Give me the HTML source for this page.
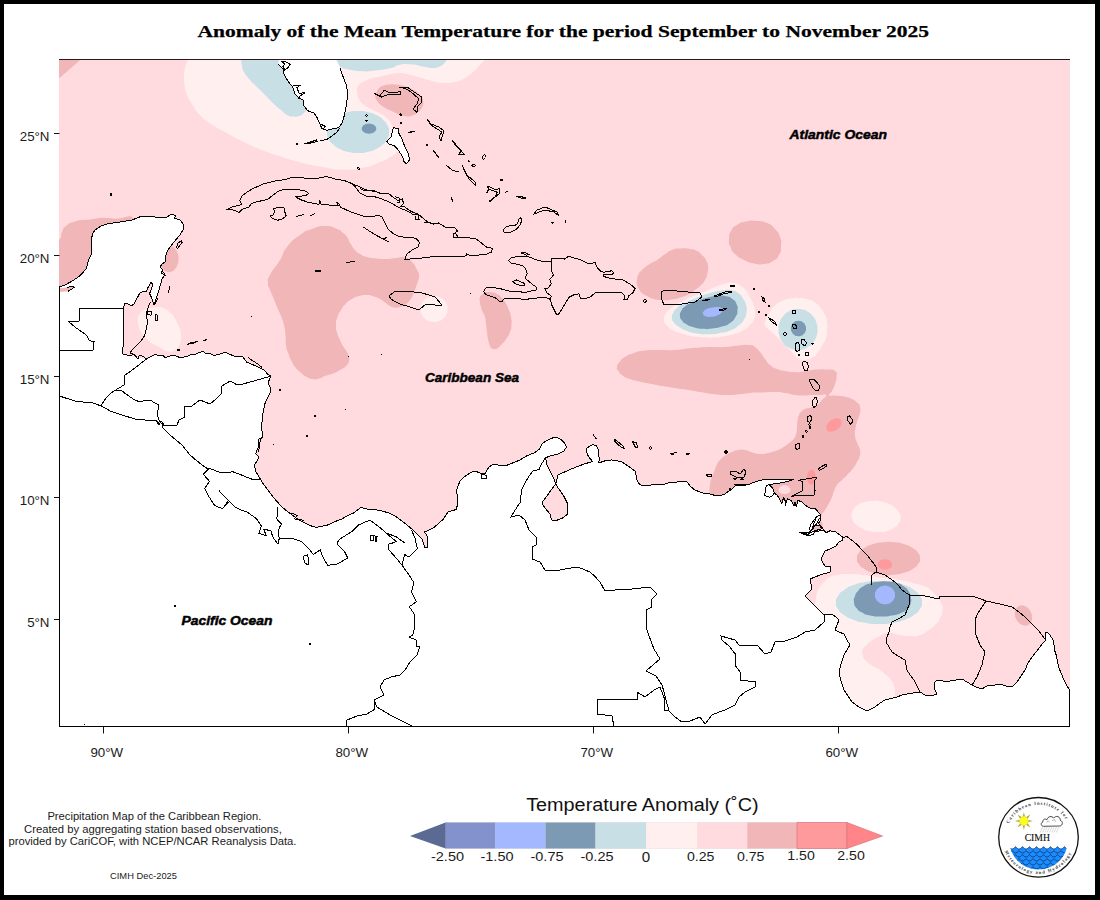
<!DOCTYPE html>
<html><head><meta charset="utf-8"><title>Anomaly of the Mean Temperature</title>
<style>
html,body{margin:0;padding:0}
body{width:1100px;height:900px;background:#000;position:relative;overflow:hidden;font-family:"Liberation Sans",sans-serif}
#pg{position:absolute;left:4px;top:4px;width:1091px;height:891px;background:#fff}
svg text{font-family:"Liberation Sans",sans-serif}
</style></head><body><div id="pg"></div>
<svg width="1100" height="900" viewBox="0 0 1100 900" style="position:absolute;left:0;top:0">
<defs><clipPath id="mc"><rect x="59" y="59" width="1011" height="668"/></clipPath></defs>
<g clip-path="url(#mc)">
<rect x="59" y="59" width="1011" height="668" fill="#ffdbe0"/>
<path d="M55 55 82.5 58 55 82Z" fill="#f0b6b8"/>
<path d="M50 245C53 226.3 55 244.3 59 240C63 235.7 59.7 236.7 62 232C64.3 227.3 61.7 229.5 66 226C70.3 222.5 67 223.7 75 221.5C83 219.3 77.7 220.5 90 219.5C102.3 218.5 97 217 112 218.5C127 220 132.3 209.5 135 224C137.7 238.5 135 239.3 120 262C105 284.7 113.3 280.7 90 292C66.7 303.3 63.3 311.7 50 296C36.7 280.3 47 263.7 50 245Z" fill="#f0b6b8"/>
<path d="M178.5 259C178.5 262.8 178.8 261.3 177.6 264.6C176.4 268 177.1 266.8 174.9 269.2C172.8 271.5 173.8 270.8 171.1 271.7C168.4 272.5 169.6 272.5 166.9 271.7C164.2 270.8 165.2 271.5 163.1 269.2C160.9 266.8 161.6 268 160.4 264.6C159.2 261.3 159.5 262.8 159.5 259C159.5 255.2 159.2 256.7 160.4 253.4C161.6 250 160.9 251.2 163.1 248.8C165.2 246.5 164.2 247.2 166.9 246.3C169.6 245.5 168.4 245.5 171.1 246.3C173.8 247.2 172.8 246.5 174.9 248.8C177.1 251.2 176.4 250 177.6 253.4C178.8 256.7 178.5 255.2 178.5 259Z" fill="#f0b6b8"/>
<path d="M325 226C316.7 226 320.3 226 312 229C303.7 232 308.3 229 300 235C291.7 241 293.7 238.7 287 247C280.3 255.3 285.7 250.7 280 260C274.3 269.3 274 267.3 270 275C266 282.7 268 278 268 283C268 288 268.2 285 270 290C271.8 295 271.2 292.3 273.5 298C275.8 303.7 274.5 301 277 307C279.5 313 278.7 310 281 316C283.3 322 282.5 318.7 284 325C285.5 331.3 284.8 328.3 285.5 335C286.2 341.7 285 338.7 286 345C287 351.3 286.5 348.3 288.5 354C290.5 359.7 289.7 357.5 292 362C294.3 366.5 292.8 364.2 295.5 367.5C298.2 370.8 296.5 369 300 372C303.5 375 302 374.2 306 376.5C310 378.8 307.7 378.3 312 379C316.3 379.7 314.7 379.5 319 378.5C323.3 377.5 320.3 377.7 325 376C329.7 374.3 328 375.5 333 373.5C338 371.5 335.7 372.5 340 370C344.3 367.5 343 369 346 366C349 363 348.2 364.3 349 361C349.8 357.7 349.2 359 348.5 356C347.8 353 348.8 355.3 347 352C345.2 348.7 345.3 350 343 346C340.7 342 342 344.5 340 340C338 335.5 338.3 337.5 337 332.5C335.7 327.5 335.8 330.2 336 325C336.2 319.8 335.8 322 337.5 317C339.2 312 338.2 314.5 341 310C343.8 305.5 342.3 307.2 346 303.5C349.7 299.8 347.7 301.5 352 299C356.3 296.5 354 297.3 359 296C364 294.7 362 294.8 367 295C372 295.2 369.7 295.2 374 296.5C378.3 297.8 376.3 297 380 299C383.7 301 381.7 300.2 385 302.5C388.3 304.8 386.7 304.3 390 306C393.3 307.7 391.7 307.2 395 307.5C398.3 307.8 396.5 308 400 307C403.5 306 402.2 306.8 405.5 304.5C408.8 302.2 407.3 303.5 410 300C412.7 296.5 411.5 298.3 413.5 294C415.5 289.7 414.5 291.3 416 287C417.5 282.7 417 285 418 281C419 277 419.3 278.7 419 275C418.7 271.3 419.3 274.3 417 270C414.7 265.7 416 266.2 412 262C408 257.8 410.3 258.8 405 257.5C399.7 256.2 402 257.5 396 258C390 258.5 393.3 258.8 387 259C380.7 259.2 383.7 259.2 377 258.5C370.3 257.8 372.7 258.5 367 257C361.3 255.5 364 256.3 360 254C356 251.7 358.2 253.5 355 250C351.8 246.5 353.2 247.8 350.5 243.5C347.8 239.2 349.7 240.7 347 237C344.3 233.3 345.8 235.2 342.5 232.5C339.2 229.8 342.8 231.2 337 229C331.2 226.8 333.3 226 325 226Z" fill="#f0b6b8"/>
<path d="M480 297C481.1 294.5 480.7 295.7 483 294C485.3 292.3 484 292.6 487 292C490 291.4 488.7 291.6 492 292.3C495.3 293 493.8 292.3 497 294C500.2 295.7 498.8 294.8 501.5 297.5C504.2 300.2 502.7 298.2 505 302C507.3 305.8 506.5 304 508.5 309C510.5 314 510 311.7 511 317C512 322.3 511.8 320 511.5 325C511.2 330 511.7 327.5 510 332C508.3 336.5 509.2 334.5 506.5 338.5C503.8 342.5 504.7 341 502 344C499.3 347 500.8 345.8 498.5 347.5C496.2 349.2 497.2 348.7 495 349C492.8 349.3 493.7 349.5 492 348.5C490.3 347.5 491.3 349.2 490 346C488.7 342.8 489 343.7 488 339C487 334.3 487.7 337 487 332C486.3 327 486.7 329 486 324C485.3 319 486.2 321.2 485 317C483.8 312.8 483.8 314.8 482.5 311.5C481.2 308.2 481.9 310.3 481 307C480.1 303.7 480.1 304.8 479.8 301.5C479.5 298.2 478.9 299.5 480 297Z" fill="#f0b6b8"/>
<path d="M729 240C729.2 234.7 728.3 236 731 231C733.7 226 732 228.2 737 225C742 221.8 739.3 222.8 746 221.5C752.7 220.2 750 220.5 757 221C764 221.5 761 220.3 767 223C773 225.7 770.7 224.3 775 229C779.3 233.7 778 231.3 780 237C782 242.7 781.3 240 781 246C780.7 252 781.7 250 779 255C776.3 260 778 258 773 261C768 264 770.3 263.2 764 264C757.7 264.8 760.7 264.8 754 263.5C747.3 262.2 750.3 263.2 744 260C737.7 256.8 739.5 258.3 735 254C730.5 249.7 732.5 251.7 730.5 247C728.5 242.3 728.8 245.3 729 240Z" fill="#f0b6b8"/>
<path d="M637 280C637.5 276.7 636.8 277.8 638.5 274.5C640.2 271.2 638.5 273.3 642 270C645.5 266.7 644 267.8 649 264.5C654 261.2 651.8 263.3 657 260C662.2 256.7 659.5 257.8 664.5 254.5C669.5 251.2 666.5 252 672 250C677.5 248 675 248.8 681 248.5C687 248.2 684.7 248.2 690 249C695.3 249.8 693 249 697 251C701 253 699 252 702 255C705 258 704 256.3 706 260C708 263.7 707.5 261.7 708 266C708.5 270.3 708.5 268.3 707.5 273C706.5 277.7 707.3 275.8 705 280C702.7 284.2 703.8 282.2 700.5 285.5C697.2 288.8 698.8 287.2 695 290C691.2 292.8 693.3 291.7 689 294C684.7 296.3 687.7 295.2 682 297C676.3 298.8 678.7 298.5 672 299.5C665.3 300.5 668 300.2 662 300C656 299.8 659 300.3 654 299C649 297.7 651 298 647 296C643 294 644.7 295.3 642 293C639.3 290.7 640.7 291.8 639 289C637.3 286.2 637.7 287.5 637 284.5C636.3 281.5 636.5 283.3 637 280Z" fill="#f0b6b8"/>
<path d="M617 367C617.5 363.8 617.3 364.8 620 361.5C622.7 358.2 620.3 359.8 625 357C629.7 354.2 627.3 355.2 634 353C640.7 350.8 636.3 351.5 645 350.5C653.7 349.5 650 350.2 660 350C670 349.8 665.7 350.5 675 350C684.3 349.5 679.7 349.3 688 348.5C696.3 347.7 692 348 700 347.5C708 347 703.7 347.2 712 347C720.3 346.8 716.3 347.5 725 347C733.7 346.5 729.7 346.2 738 345.5C746.3 344.8 744.2 344.3 750 345C755.8 345.7 752.2 345.2 755.5 347.5C758.8 349.8 756.8 348.2 760 352C763.2 355.8 761.7 354.7 765 359C768.3 363.3 766 361.7 770 365C774 368.3 772 367 777 369C782 371 779.7 370 785 371C790.3 372 788 371.7 793 372C798 372.3 794.7 372.5 800 372C805.3 371.5 803.3 371.3 809 370.5C814.7 369.7 811.3 369.8 817 369.5C822.7 369.2 820 369 826 369.5C832 370 831.5 368.5 835 371C838.5 373.5 836.5 372.7 836.5 377C836.5 381.3 836.5 379.3 835 384C833.5 388.7 834 387.3 832 391C830 394.7 828.3 393.5 829 395C829.7 396.5 830.3 395.2 834 395.5C837.7 395.8 835.8 395.5 840 396C844.2 396.5 842.5 396 846.5 397C850.5 398 848.5 397.2 852 399C855.5 400.8 854.3 399.8 857 402.5C859.7 405.2 859.2 403 860 407C860.8 411 860.5 409.5 859.5 414.5C858.5 419.5 858.3 417.3 857 422C855.7 426.7 856.2 424.2 855.5 428.5C854.8 432.8 854.5 430.3 855 435C855.5 439.7 855.3 437.5 857 442.5C858.7 447.5 859.2 445.3 860 450C860.8 454.7 860.5 452.5 859.5 456.5C858.5 460.5 859.3 457.8 857 462C854.7 466.2 855.8 464.7 852.5 469C849.2 473.3 850.5 471.3 847 475C843.5 478.7 845.3 476.7 842 480C838.7 483.3 839.7 481.3 837 485C834.3 488.7 835.7 487 834 491C832.3 495 833.8 492.7 832 497C830.2 501.3 830.8 499.7 828.5 504C826.2 508.3 827.5 506 825 510C822.5 514 824 510.7 821 516C818 521.3 829.7 528 816 526C802.3 524 805.3 518.7 780 510C754.7 501.3 762.7 503.3 740 500C717.3 496.7 722 502 712 500C702 498 710.8 497.5 710 494C709.2 490.5 709.5 492.5 709.5 489.5C709.5 486.5 709.3 488.8 710 485C710.7 481.2 710.2 482.3 711.5 478C712.8 473.7 712.3 476.2 714 472C715.7 467.8 714.5 469.5 716.5 465.5C718.5 461.5 716.8 463.5 720 460C723.2 456.5 722 457.7 726 455C730 452.3 727.8 453.7 732 452C736.2 450.3 734.2 450.7 738.5 450C742.8 449.3 740.3 449.2 745 450C749.7 450.8 747.5 451.2 752.5 452.5C757.5 453.8 755.5 453.7 760 454C764.5 454.3 762 454.2 766 453.5C770 452.8 767.7 453.3 772 452C776.3 450.7 774.7 451.5 779 449.5C783.3 447.5 781 448.7 785 446C789 443.3 787.7 444.5 791 441.5C794.3 438.5 793.2 440.2 795 437C796.8 433.8 795.8 435.3 796.5 432C797.2 428.7 796.7 430.7 797 427C797.3 423.3 796.8 425 797.5 421C798.2 417 797.7 418.2 799 415C800.3 411.8 799.5 413.5 801.5 411.5C803.5 409.5 801.8 410.3 805 409C808.2 407.7 807 408.8 811 407.5C815 406.2 813.3 407.5 817 405C820.7 402.5 819 403.3 822 400C825 396.7 827 396.7 826 395C825 393.3 823.7 395 819 395C814.3 395 817.2 394.8 812 395C806.8 395.2 809.2 395.5 803.5 395.5C797.8 395.5 801.2 395.8 795 395C788.8 394.2 791.7 394 785 393C778.3 392 782.7 392.2 775 392C767.3 391.8 770.3 392.2 762 392.5C753.7 392.8 758.3 392.3 750 393C741.7 393.7 745.3 393.8 737 394.5C728.7 395.2 733.3 395.2 725 395C716.7 394.8 720.3 395 712 394C703.7 393 710.3 393.7 700 392C689.7 390.3 693.7 391 681 389C668.3 387 672.7 387.8 662 386C651.3 384.2 657.3 385.2 649 383.5C640.7 381.8 643.8 382.7 637 381C630.2 379.3 633.5 380.5 628.5 378.5C623.5 376.5 625.3 377.5 622 375C618.7 372.5 620.2 373.7 618.5 371C616.8 368.3 616.5 370.2 617 367Z" fill="#f0b6b8"/>
<path d="M920 558.5C920 562.3 920.6 560.6 918.1 564.1C915.6 567.7 917.2 566.2 912.6 569.1C908 572 910.5 570.9 904.2 572.8C898 574.7 901 574.1 894 574.7C886.9 575.4 890.1 575.4 883 574.7C876 574.1 879 574.7 872.8 572.8C866.5 570.9 869 572 864.4 569.1C859.8 566.2 861.4 567.7 858.9 564.1C856.4 560.6 857 562.3 857 558.5C857 554.7 856.4 556.4 858.9 552.9C861.4 549.3 859.8 550.8 864.4 547.9C869 545 866.5 546.1 872.8 544.2C879 542.3 876 542.9 883 542.3C890.1 541.6 886.9 541.6 894 542.3C901 542.9 898 542.3 904.2 544.2C910.5 546.1 908 545 912.6 547.9C917.2 550.8 915.6 549.3 918.1 552.9C920.6 556.4 920 554.7 920 558.5Z" fill="#f0b6b8"/>
<path d="M1030.8 612.1C1032 614.9 1031.7 613.7 1032 616.6C1032.2 619.5 1032.3 618.4 1031.5 620.8C1030.7 623.3 1031.2 622.5 1029.4 624C1027.7 625.6 1028.5 625.2 1026.2 625.5C1023.9 625.9 1024.9 626 1022.4 625C1020 624.1 1021 624.7 1018.9 622.7C1016.8 620.6 1017.5 621.6 1016.2 618.9C1015 616.1 1015.3 617.3 1015 614.4C1014.8 611.5 1014.7 612.6 1015.5 610.2C1016.3 607.7 1015.8 608.5 1017.6 607C1019.3 605.4 1018.5 605.8 1020.8 605.5C1023.1 605.1 1022.1 605 1024.6 606C1027 606.9 1026 606.3 1028.1 608.3C1030.2 610.4 1029.5 609.4 1030.8 612.1Z" fill="#f0b6b8"/>
<path d="M841 420.1C841.9 421.4 841.7 420.8 841.6 422.6C841.6 424.3 841.8 423.6 840.8 425.5C839.8 427.4 840.4 426.6 838.6 428.3C836.9 430 837.7 429.4 835.5 430.5C833.4 431.6 834.3 431.3 832.1 431.6C830 431.9 830.8 431.9 829.1 431.3C827.4 430.8 827.9 431.2 827 429.9C826.1 428.6 826.3 429.2 826.4 427.4C826.4 425.7 826.2 426.4 827.2 424.5C828.2 422.6 827.6 423.4 829.4 421.7C831.1 420 830.3 420.6 832.5 419.5C834.6 418.4 833.7 418.7 835.9 418.4C838 418.1 837.2 418.1 838.9 418.7C840.6 419.2 840.1 418.8 841 420.1Z" fill="#ff9a9c"/>
<path d="M815.7 477.2C815.7 479.3 815.8 478.5 815.3 480.4C814.7 482.3 815.1 481.6 814.1 482.9C813.1 484.2 813.6 483.8 812.4 484.3C811.1 484.8 811.7 484.8 810.4 484.3C809.2 483.8 809.7 484.2 808.7 482.9C807.7 481.6 808.1 482.3 807.5 480.4C807 478.5 807.1 479.3 807.1 477.2C807.1 475.1 807 475.9 807.5 474C808.1 472.1 807.7 472.8 808.7 471.5C809.7 470.2 809.2 470.6 810.4 470.1C811.7 469.6 811.1 469.6 812.4 470.1C813.6 470.6 813.1 470.2 814.1 471.5C815.1 472.8 814.7 472.1 815.3 474C815.8 475.9 815.7 475.1 815.7 477.2Z" fill="#ff9a9c"/>
<path d="M892 564.5C892 566 892.2 565.4 891.3 566.8C890.4 568.1 890.9 567.6 889.4 568.6C887.8 569.5 888.5 569.2 886.6 569.6C884.6 569.9 885.4 569.9 883.4 569.6C881.5 569.2 882.2 569.5 880.6 568.6C879.1 567.6 879.6 568.1 878.7 566.8C877.8 565.4 878 566 878 564.5C878 563 877.8 563.6 878.7 562.2C879.6 560.9 879.1 561.4 880.6 560.4C882.2 559.5 881.5 559.8 883.4 559.4C885.4 559.1 884.6 559.1 886.6 559.4C888.5 559.8 887.8 559.5 889.4 560.4C890.9 561.4 890.4 560.9 891.3 562.2C892.2 563.6 892 563 892 564.5Z" fill="#ff9a9c"/>
<path d="M195 20C95 26.7 192 28.3 190 40C188 51.7 190.5 46 189 55C187.5 64 187.2 60.3 185.5 67C183.8 73.7 184.3 69.3 184 75C183.7 80.7 183.8 78.3 184.5 84C185.2 89.7 183.5 85.3 186 92C188.5 98.7 187.3 96.3 192 104C196.7 111.7 193.3 108.2 200 115C206.7 121.8 203.7 118.8 212 124.5C220.3 130.2 214.7 126.3 225 132C235.3 137.7 230.7 135.5 243 141.5C255.3 147.5 249.3 145 262 150C274.7 155 268 152.3 281 156.5C294 160.7 286.2 158.8 301 162.5C315.8 166.2 311.8 165.2 325.5 167.5C339.2 169.8 330 169.3 342 169.5C354 169.7 349.5 170.2 361.5 168C373.5 165.8 368.2 166.8 378 163C387.8 159.2 384.3 160.5 391 156.5C397.7 152.5 394 154.5 398 151C402 147.5 401.7 150.3 403 146C404.3 141.7 403.7 143 402 138C400.3 133 401 134.7 398 131C395 127.3 396 130.5 393 127C390 123.5 391.5 123.8 389 120.5C386.5 117.2 388.2 119.2 385.5 117C382.8 114.8 384.2 115.8 381 114C377.8 112.2 379.3 113.2 376 111.5C372.7 109.8 374.5 110.8 371 109C367.5 107.2 368.7 108.2 365.5 106C362.3 103.8 363.8 105 361.5 102.5C359.2 100 359.9 101.2 358.5 98.5C357.1 95.8 357.9 97.1 357.4 94.3C356.9 91.5 356.8 92.8 357 90C357.2 87.2 356.7 88.3 358 86C359.3 83.7 358.7 84.7 361 83C363.3 81.3 361.7 82.5 365 81C368.3 79.5 366.7 79.8 371 78.5C375.3 77.2 373.5 78 378 77C382.5 76 380.2 76.5 384.5 75.5C388.8 74.5 386.7 74.8 391 74C395.3 73.2 393.2 73.4 397.5 73.2C401.8 73 399.5 72.9 404 73.5C408.5 74.1 406.3 73.8 411 75C415.7 76.2 413.3 75.7 418 77C422.7 78.3 420.3 77.7 425 79C429.7 80.3 427.7 79.8 432 81C436.3 82.2 434 81.8 438 82.5C442 83.2 439.3 83 444 83C448.7 83 446.7 83.3 452 82.5C457.3 81.7 455.2 82.3 460 80.5C464.8 78.7 462.3 79.7 466.5 77C470.7 74.3 468.3 76.2 472.5 72.5C476.7 68.8 474.8 70.5 479 66C483.2 61.5 482 63.7 485 59C488 54.3 486.3 58.3 488 52C489.7 45.7 489.3 50.7 490 40C490.7 29.3 588.3 26.7 490 20C391.7 13.3 295 13.3 195 20Z" fill="#fff0ef"/>
<path d="M375.4 96C375.4 92.9 375.6 94.3 377 91.5C378.4 88.7 377.2 89.7 379.5 87.7C381.8 85.7 380.8 86.6 384 85.5C387.2 84.4 385.3 84.8 389 84.5C392.7 84.2 391.1 84.2 395 84.5C398.9 84.8 396.5 84.4 400.7 85.3C404.9 86.2 403.1 85.7 407.5 87.3C411.9 88.9 410.1 87.9 413.8 90C417.5 92.1 415.8 91 418.5 93.5C421.2 96 420.4 94.8 422 97.5C423.6 100.2 422.9 98.8 423.2 101.5C423.5 104.2 423.7 103 422.8 105.7C421.9 108.4 422.4 107.3 420.5 109.7C418.6 112.1 419.7 111.1 417 113C414.3 114.9 415.8 114.4 412.5 115.5C409.2 116.6 410.8 116.5 407 116.4C403.2 116.3 404.7 116.4 401 115.3C397.3 114.2 399.5 114.7 395.8 113C392.1 111.3 393.8 112.2 390 110.3C386.2 108.4 387.7 109.4 384.4 107.4C381.1 105.4 382.5 106.5 380 104.3C377.5 102.1 378.5 103.6 377 100.8C375.5 98 375.4 99.1 375.4 96Z" fill="#f0b6b8"/>
<path d="M138 318C138.4 315.8 138.1 316.9 139 315C139.9 313.1 139.1 314.1 140.8 312.4C142.5 310.7 141.6 311.2 144 310C146.4 308.8 144.7 309.5 148 308.7C151.3 307.9 150.1 308 154 307.5C157.9 307 156 306.8 159.7 307.3C163.4 307.8 161.6 307.3 165 309C168.4 310.7 167 309.7 170 312.4C173 315.1 171.7 313.6 174 317C176.3 320.4 175.2 318.8 177 322.5C178.8 326.2 178.2 324.2 179.5 328C180.8 331.8 180.3 330.3 180.8 334C181.3 337.7 181.3 336 181 339C180.7 342 180.8 340.5 180 343C179.2 345.5 179.9 344.3 178.5 346.5C177.1 348.7 177.7 347.9 175.7 349.5C173.7 351.1 174.9 350.5 172.5 351.2C170.1 351.9 171.3 352 168.5 351.6C165.7 351.2 166.9 351.4 164 350C161.1 348.6 162.9 349.1 159.7 347.3C156.5 345.5 157.9 346.4 154.5 344.5C151.1 342.6 152.5 343.7 149.5 341.5C146.5 339.3 147.9 340.5 145.5 338C143.1 335.5 144.1 336.7 142.3 334C140.5 331.3 141.2 332.8 140 330C138.8 327.2 139.3 328.3 138.6 325.5C137.9 322.7 138 324 137.8 321.5C137.6 319 137.6 320.2 138 318Z" fill="#fff0ef"/>
<path d="M447.5 309C447.5 312.3 447.8 310.9 446.5 314C445.2 317 446 315.8 443.5 318.2C441.1 320.5 442.3 319.7 439.2 321C436 322.3 437.4 322 434 322C430.6 322 432 322.3 428.8 321C425.7 319.7 426.9 320.5 424.5 318.2C422 315.8 422.8 317 421.5 314C420.2 310.9 420.5 312.3 420.5 309C420.5 305.7 420.2 307.1 421.5 304C422.8 301 422 302.2 424.5 299.8C426.9 297.5 425.7 298.3 428.8 297C432 295.7 430.6 296 434 296C437.4 296 436 295.7 439.2 297C442.3 298.3 441.1 297.5 443.5 299.8C446 302.2 445.2 301 446.5 304C447.8 307.1 447.5 305.7 447.5 309Z" fill="#fff0ef"/>
<path d="M664 320C663.7 316 664.3 316.8 666 313.5C667.7 310.2 665.7 312.8 669 310C672.3 307.2 670.7 308.3 676 305C681.3 301.7 678.7 303.2 685 300C691.3 296.8 688.3 298.3 695 295.5C701.7 292.7 698.3 294.3 705 291.5C711.7 288.7 708.3 289.6 715 287C721.7 284.4 719 285 725 283.7C731 282.4 728 282.4 733 283C738 283.6 735.7 283 740 285.5C744.3 288 742.7 286.5 746 290.5C749.3 294.5 747.5 292.7 750 297.5C752.5 302.3 751.8 300 753.5 305C755.2 310 754.8 307.8 755 312.5C755.2 317.2 755.7 314.8 754 319C752.3 323.2 753.7 321.2 750 325C746.3 328.8 748 327.6 743 330.5C738 333.4 741 331.9 735 333.7C729 335.5 731.7 334.7 725 336C718.3 337.3 722.3 337.1 715 337.5C707.7 337.9 710.5 337.7 703 337.3C695.5 336.9 699.5 337.6 692.5 336.3C685.5 335 688.7 335.6 682 333.5C675.3 331.4 677.5 332.7 672.5 330C667.5 327.3 669.8 328.8 667 325.5C664.2 322.2 664.3 324 664 320Z" fill="#fff0ef"/>
<path d="M765 325C764.2 321.3 764.8 322.8 766.5 318.5C768.2 314.2 767.2 316.3 770 312C772.8 307.7 770.8 309.2 775 305.5C779.2 301.8 777.2 303.3 782.5 301C787.8 298.7 785.2 299.5 791 298.5C796.8 297.5 794.3 297.7 800 298C805.7 298.3 803 298 808 299.5C813 301 810.8 299.7 815 302.5C819.2 305.3 817.2 303.8 820.5 308C823.8 312.2 822.8 310.2 825 315C827.2 319.8 826.3 317.5 827 322.5C827.7 327.5 827.3 325 827 330C826.7 335 827.5 332.5 826 337.5C824.5 342.5 825.2 340.2 822.5 345C819.8 349.8 821.3 347.8 818 352C814.7 356.2 816.5 355 812.5 357.5C808.5 360 810.2 359 806 359.5C801.8 360 803.7 360.3 800 359C796.3 357.7 798.3 358.5 795 355.5C791.7 352.5 794 354.2 790 350C786 345.8 788 348 783 343C778 338 779.7 339.5 775 335C770.3 330.5 772.3 332.8 769 329.5C765.7 326.2 765.8 328.7 765 325Z" fill="#fff0ef"/>
<path d="M900.4 518.6C900.1 522.2 900.7 520.6 898.5 523.8C896.3 526.9 897.6 525.7 893.8 528.1C890 530.4 892 529.6 887 530.9C882.1 532.3 884.4 531.9 878.9 532.1C873.4 532.2 875.9 532.4 870.4 531.3C865 530.2 867.3 531 862.6 528.8C858 526.6 859.8 527.8 856.4 524.8C853.1 521.8 854.2 523.2 852.6 519.8C851 516.3 851.3 517.9 851.6 514.4C851.9 510.8 851.3 512.4 853.5 509.2C855.7 506.1 854.4 507.3 858.2 504.9C862 502.6 860 503.4 865 502.1C869.9 500.7 867.6 501.1 873.1 500.9C878.6 500.8 876.1 500.6 881.6 501.7C887 502.8 884.7 502 889.4 504.2C894 506.4 892.2 505.2 895.6 508.2C898.9 511.2 897.8 509.8 899.4 513.2C901 516.7 900.7 515.1 900.4 518.6Z" fill="#fff0ef"/>
<path d="M790.3 489.7C790.3 491.2 790.5 490.6 789.5 491.9C788.6 493.2 789.1 492.8 787.4 493.5C785.7 494.2 786.4 494.1 784.5 494.1C782.6 494.1 783.3 494.2 781.6 493.5C779.9 492.8 780.4 493.2 779.5 491.9C778.5 490.6 778.7 491.2 778.7 489.7C778.7 488.2 778.5 488.8 779.5 487.5C780.4 486.2 779.9 486.6 781.6 485.9C783.3 485.2 782.6 485.3 784.5 485.3C786.4 485.3 785.7 485.2 787.4 485.9C789.1 486.6 788.6 486.2 789.5 487.5C790.5 488.8 790.3 488.2 790.3 489.7Z" fill="#ffdbe0"/>
<path d="M816 600C816.7 592.7 815.7 597.3 817 593C818.3 588.7 817.5 590.8 820 587C822.5 583.2 821.2 584.8 824.5 581.5C827.8 578.2 825.7 579.2 830 577C834.3 574.8 832.5 576 837.5 575C842.5 574 839.7 574.2 845 574C850.3 573.8 847.8 574 853.5 574.3C859.2 574.6 852.8 573.9 862 575C871.2 576.1 868.3 575.8 881 577.5C893.7 579.2 889.3 578.2 900 580C910.7 581.8 904.7 580.8 913 583C921.3 585.2 918.7 583.7 925 586.5C931.3 589.3 927.8 587.8 932 591.5C936.2 595.2 934.3 593.3 937.5 597.5C940.7 601.7 939.8 599.8 941.5 604C943.2 608.2 942.8 605.5 942.5 610C942.2 614.5 943 612.5 940.5 617.5C938 622.5 939.2 620.7 935 625C930.8 629.3 933 627.2 928 630.5C923 633.8 926 633.2 920 635C914 636.8 916.7 636 910 636C903.3 636 905.5 635.8 900 635C894.5 634.2 897.7 634.3 893.5 633.5C889.3 632.7 892 631.7 887.5 632.5C883 633.3 885 633.5 880 636C875 638.5 877 637 872.5 640C868 643 869.8 641.7 866.5 645C863.2 648.3 863.7 646.7 862.5 650C861.3 653.3 862.2 651.7 863 655C863.8 658.3 862 656.5 865 660C868 663.5 867 662.2 872 665.5C877 668.8 875.3 666.8 880 670C884.7 673.2 882.3 671.7 886 675C889.7 678.3 888.3 676.3 891 680C893.7 683.7 892.7 681.8 894 686C895.3 690.2 895.2 688.2 895 692.5C894.8 696.8 895.2 694.8 893.5 699C891.8 703.2 894.5 700.7 890 705C885.5 709.3 890 708.3 880 712C870 715.7 873.3 718.3 860 716C846.7 713.7 849.3 717 840 705C830.7 693 837 701.7 832 680C827 658.3 830.7 661.7 825 640C819.3 618.3 818 628.3 815 615C812 601.7 815.3 607.3 816 600Z" fill="#fff0ef"/>
<path d="M245 20C220.3 26.7 242.3 28.3 241 40C239.7 51.7 240.7 46.3 241 55C241.3 63.7 241 60.3 242 66C243 71.7 241.3 67.3 244 72C246.7 76.7 245.7 75 250 80C254.3 85 251.7 81.7 257 87C262.3 92.3 260 90 266 96C272 102 269.8 100.2 275 105C280.2 109.8 277.5 107.2 281.5 110.5C285.5 113.8 283.2 113 287 115C290.8 117 289 116.2 293 116.5C297 116.8 295.5 117 299 116C302.5 115 300.8 115.5 303.5 113.5C306.2 111.5 301.5 114.5 307 110C312.5 105.5 314 113.3 320 100C326 86.7 325 90 325 70C325 50 323.3 56.7 320 40C316.7 23.3 340 26.7 315 20C290 13.3 269.7 13.3 245 20Z" fill="#c8dfe6"/>
<path d="M330 20C291 26.7 331.3 28.3 333 40C334.7 51.7 333.3 47.3 335 55C336.7 62.7 336 59 338 63C340 67 337 64.8 341 67C345 69.2 343 68.3 350 69.7C357 71.1 353.7 70.9 362 71.2C370.3 71.5 365.3 71.6 375 70.5C384.7 69.4 383 69.8 391 68C399 66.2 392.7 66.2 399 65C405.3 63.8 402 63.8 410 64.3C418 64.8 415.7 65.3 423 66.5C430.3 67.7 427 67.8 432 68C437 68.2 434.3 68.2 438 67C441.7 65.8 440.3 66.5 443 64.5C445.7 62.5 444.3 63.2 446 61C447.7 58.8 447 61 448 58C449 55 448.3 58 449 52C449.7 46 449.7 50.7 450 40C450.3 29.3 490 26.7 450 20C410 13.3 369 13.3 330 20Z" fill="#c8dfe6"/>
<path d="M389 132C389 136.3 389.5 134.4 387.5 138.5C385.5 142.6 386.8 140.8 383.1 144.3C379.3 147.8 381.4 146.4 376.2 149C371.1 151.5 373.7 150.6 367.6 152C361.5 153.3 364.4 153 358 153C351.6 153 354.5 153.3 348.4 152C342.3 150.6 344.9 151.5 339.8 149C334.6 146.4 336.7 147.8 332.9 144.3C329.2 140.8 330.5 142.6 328.5 138.5C326.5 134.4 327 136.3 327 132C327 127.7 326.5 129.6 328.5 125.5C330.5 121.4 329.2 123.2 332.9 119.7C336.7 116.2 334.6 117.6 339.8 115C344.9 112.5 342.3 113.4 348.4 112C354.5 110.7 351.6 111 358 111C364.4 111 361.5 110.7 367.6 112C373.7 113.4 371.1 112.5 376.2 115C381.4 117.6 379.3 116.2 383.1 119.7C386.8 123.2 385.5 121.4 387.5 125.5C389.5 129.6 389 127.7 389 132Z" fill="#c8dfe6"/>
<path d="M672 318C671.8 314.7 671.8 315.8 673.5 312.5C675.2 309.2 673.5 311 677 308C680.5 305 678.8 306.3 684 303.5C689.2 300.7 686.5 302.1 692.5 299.5C698.5 296.9 695.5 298 702 295.7C708.5 293.4 705.3 294.2 712 292.5C718.7 290.8 715.7 291.2 722 290.5C728.3 289.8 725.7 289.5 731 290.3C736.3 291.1 734 290.3 738 293C742 295.7 740.3 294.5 743 298.5C745.7 302.5 744.8 300.5 746 305C747.2 309.5 747.2 307.2 746.5 312C745.8 316.8 746.8 314.8 744 319.5C741.2 324.2 742.7 322.3 738 326C733.3 329.7 736 328.2 730 330.5C724 332.8 727.3 331.7 720 333C712.7 334.3 715.7 334.1 708 334.3C700.3 334.5 704 334.6 697 333.5C690 332.4 693.2 333.3 687 331C680.8 328.7 682.8 329.3 678.5 326.5C674.2 323.7 676.2 325.3 674 322.5C671.8 319.7 672.2 321.3 672 318Z" fill="#c8dfe6"/>
<path d="M817.5 329.5C817.5 334.2 817.8 332.1 816.3 336.5C814.8 340.9 815.8 339.1 812.9 342.7C810.1 346.3 811.6 344.9 807.8 347.3C803.9 349.6 805.8 348.9 801.4 349.7C797 350.5 799 350.5 794.6 349.7C790.2 348.9 792.1 349.6 788.2 347.3C784.4 344.9 785.9 346.3 783.1 342.7C780.2 339.1 781.2 340.9 779.7 336.5C778.2 332.1 778.5 334.2 778.5 329.5C778.5 324.8 778.2 326.9 779.7 322.5C781.2 318.1 780.2 319.9 783.1 316.3C785.9 312.7 784.4 314.1 788.2 311.7C792.1 309.4 790.2 310.1 794.6 309.3C799 308.5 797 308.5 801.4 309.3C805.8 310.1 803.9 309.4 807.8 311.7C811.6 314.1 810.1 312.7 812.9 316.3C815.8 319.9 814.8 318.1 816.3 322.5C817.8 326.9 817.5 324.8 817.5 329.5Z" fill="#c8dfe6"/>
<path d="M922 602.5C922 606.9 922.6 604.9 919.9 609.1C917.2 613.4 919 611.6 913.8 615.1C908.6 618.7 911.4 617.3 904.3 619.9C897.1 622.5 900.7 621.6 892.3 622.9C883.9 624.3 887.9 624 879 624C870.1 624 874.1 624.3 865.7 622.9C857.3 621.6 860.9 622.5 853.7 619.9C846.6 617.3 849.4 618.7 844.2 615.1C839 611.6 840.8 613.4 838.1 609.1C835.4 604.9 836 606.9 836 602.5C836 598.1 835.4 600.1 838.1 595.9C840.8 591.6 839 593.4 844.2 589.9C849.4 586.3 846.6 587.7 853.7 585.1C860.9 582.5 857.3 583.4 865.7 582.1C874.1 580.7 870.1 581 879 581C887.9 581 883.9 580.7 892.3 582.1C900.7 583.4 897.1 582.5 904.3 585.1C911.4 587.7 908.6 586.3 913.8 589.9C919 593.4 917.2 591.6 919.9 595.9C922.6 600.1 922 598.1 922 602.5Z" fill="#c8dfe6"/>
<path d="M376.2 128.6C376.2 130 376.4 129.5 375.5 130.8C374.6 132.1 375.1 131.6 373.5 132.5C371.9 133.4 372.6 133.2 370.6 133.5C368.6 133.8 369.4 133.8 367.4 133.5C365.4 133.2 366.1 133.4 364.5 132.5C362.9 131.6 363.4 132.1 362.5 130.8C361.6 129.5 361.8 130 361.8 128.6C361.8 127.2 361.6 127.7 362.5 126.4C363.4 125.1 362.9 125.6 364.5 124.7C366.1 123.8 365.4 124 367.4 123.7C369.4 123.4 368.6 123.4 370.6 123.7C372.6 124 371.9 123.8 373.5 124.7C375.1 125.6 374.6 125.1 375.5 126.4C376.4 127.7 376.2 127.2 376.2 128.6Z" fill="#7d9ab5"/>
<path d="M680 316C679.8 312.7 679.8 313.7 681.5 310.5C683.2 307.3 681.8 309 685 306.5C688.2 304 686.3 305.2 691 303C695.7 300.8 693.3 301.8 699 300C704.7 298.2 702 298.8 708 297.5C714 296.2 711 296.4 717 296C723 295.6 720.8 295.3 726 296.3C731.2 297.3 729 296.4 732.5 299C736 301.6 734.8 300.2 736.5 304C738.2 307.8 737.8 306.2 737.5 310.5C737.2 314.8 738 312.8 735.5 317C733 321.2 734.5 319.8 730 323C725.5 326.2 728 324.7 722 326.5C716 328.3 718.7 327.7 712 328.5C705.3 329.3 708.3 329.3 702 328.8C695.7 328.3 698.3 328.6 693 327C687.7 325.4 689.7 326.2 686 324C682.3 321.8 684 323.2 682 320.5C680 317.8 680.2 319.3 680 316Z" fill="#7d9ab5"/>
<path d="M806 328.5C806 330.7 806.2 329.8 805.3 331.8C804.3 333.8 804.9 333.1 803.2 334.5C801.5 335.9 802.3 335.5 800.2 336C798.1 336.5 798.9 336.5 796.8 336C794.7 335.5 795.5 335.9 793.8 334.5C792.1 333.1 792.7 333.8 791.7 331.8C790.8 329.8 791 330.7 791 328.5C791 326.3 790.8 327.2 791.7 325.2C792.7 323.2 792.1 323.9 793.8 322.5C795.5 321.1 794.7 321.5 796.8 321C798.9 320.5 798.1 320.5 800.2 321C802.3 321.5 801.5 321.1 803.2 322.5C804.9 323.9 804.3 323.2 805.3 325.2C806.2 327.2 806 326.3 806 328.5Z" fill="#7d9ab5"/>
<path d="M854 602C853.5 598 853.7 599.7 855 596C856.3 592.3 855.3 594.2 858 591C860.7 587.8 859 589 863 586.5C867 584 864.7 585.1 870 583.5C875.3 581.9 873 582.5 879 581.8C885 581.1 882 581.1 888 581.5C894 581.9 891.7 581.3 897 583C902.3 584.7 900 583.5 904 586.5C908 589.5 906.7 588.2 909 592C911.3 595.8 910.5 594 911 598C911.5 602 911.7 600.3 910.5 604C909.3 607.7 910.7 606 907.5 609C904.3 612 906.2 610.8 901 613C895.8 615.2 898.7 614.3 892 615.5C885.3 616.7 888.3 616.5 881 616.5C873.7 616.5 876.3 616.8 870 615.5C863.7 614.2 866.5 615 862 612.5C857.5 610 859.2 611.5 856.5 608C853.8 604.5 854.5 606 854 602Z" fill="#7d9ab5"/>
<path d="M703 314C702.2 312.2 702.7 312.7 704 311C705.3 309.3 704.3 310.1 707 309C709.7 307.9 708.5 308.3 712 307.6C715.5 306.9 714.5 306.9 717.5 307C720.5 307.1 719.4 306.8 721 307.8C722.6 308.8 722.3 308.3 722.3 310C722.3 311.7 722.8 311.2 721 313C719.2 314.8 720.2 314.2 717 315.5C713.8 316.8 715 316.5 711.5 316.8C708 317.1 709.3 317.4 706.5 316.5C703.7 315.6 703.8 315.8 703 314Z" fill="#a4b8ff"/>
<path d="M895 595C895 597.7 895.3 596.6 894 599C892.8 601.4 893.5 600.5 891.2 602.2C889 603.9 890 603.4 887.2 604C884.4 604.6 885.6 604.6 882.8 604C880 603.4 881 603.9 878.8 602.2C876.5 600.5 877.2 601.4 876 599C874.7 596.6 875 597.7 875 595C875 592.3 874.7 593.4 876 591C877.2 588.6 876.5 589.5 878.8 587.8C881 586.1 880 586.6 882.8 586C885.6 585.4 884.4 585.4 887.2 586C890 586.6 889 586.1 891.2 587.8C893.5 589.5 892.8 588.6 894 591C895.3 593.4 895 592.3 895 595Z" fill="#a4b8ff"/>
<path d="M59 287 63.7 285.5 71 281.8 79.7 276 86.3 268.7 88.5 260 91 255 91 240 93 233 95 230 101 226 107 224 120 222 132 220 137 218 142 216 155 217 167 217 170 215 173 214.5 176 216 174 218 180 220 184 225 183 230 180 235 174 242 170 247 167 252 165 258 165 262 162 264 160 267 163 270 161 273 165 275 163.4 271.6 165 275 162 279 159.7 287.6 157.5 295 155.4 300.7 154 305 154 305 151 296.4 149.5 293.5 151.7 289 152.5 284 151 282.5 148 287.6 146 292 143.7 291.3 140 292.7 136.5 299.3 134.3 303.6 131.4 305.8 126.3 303.3 124.8 303.6 124.8 303.6 123.4 308 124 329.8 122.6 354.5 146.6 359 151 356.5 155.4 354.5 159 356 162.6 355.3 165 357.5 168.5 356.7 172 355 175.7 356 180 357.5 186 356.7 190 355 194.6 354.5 199 352.5 203.4 351.6 206 353.5 209 353 214 355.5 220 354 225.3 352.4 230 354.5 234.2 356 239 356 243 357 246.7 362.2 251 364 255.6 365.8 260 368 264.4 370.2 268 374.7 271 376 271 376 268 382.7 270 387 270.7 391.6 268 397 265.3 402.2 264 408 262.7 414.7 262 422 261.8 429 262.7 437 258.2 439.6 259 446.7 257 450 255.6 453.8 259 457.3 257 461 254.7 464.4 255 468 255.6 471.6 258 475 260.3 479 260.3 479 264 485 268.5 490.7 273 497 278 502.5 281 506 285 509.6 289.5 513 294.5 516.7 299 520 304 522.6 310 525.5 315.8 527.4 321 526.5 327.6 525 334 522 341.8 519 347 516 353.6 513 357 510.5 360.7 507.3 367 509 375 509.6 382 511 389 513 395 516 401 520.3 407 525 412.7 529.7 417 534 422.2 539.2 423.5 543 424.5 547.5 428 547.5 427.5 541 427 535.6 424.5 532 429 530 434 527.4 439 523 443.5 519 446 515 448 512 452 510.5 456.5 509.6 457.6 503 457.6 497.8 456.5 490.7 458 486 460 481.3 460 481.3 463 478 467 475 471 472.5 475 471 480 473 485 474 487 470 489 467 492 465 495 464 500 465.5 505 466 510 464 515 462 520 460 527.3 455.6 534.5 452.7 539.6 449 541 446 541.8 444 545 441.5 549 439.6 553.5 437.5 559.3 438.2 563.6 441.8 566.5 447 563.6 451.3 557.8 454.2 551.3 455.6 545.5 457.8 545.5 457.8 547 465 550.5 472.4 554.2 479 555.6 484 555.6 484 557 479 557.8 475.3 563.6 472.4 569 470 575.3 467.3 580 465.5 585.5 463.6 592.7 461.5 592.7 461.5 590.5 459 588.4 456.4 586.5 452 586.2 449 588.4 447 592.7 444.7 596.4 445.5 598.5 449.8 598.5 456.4 600 459.3 598.5 462 601.5 462 601.5 462 606 460.5 611.6 460 617 460.8 621.8 462 625 464 629 466.5 632 469 635 471 636 475 636.4 478 637.5 481 639.3 484 642 485.5 645 486 651 485 658 484 665 484 670 482.5 680 481.8 687 482 691 487 695 490 700 492 705 493.5 710 494 717 496 721 495.5 725 494 729 491 732 489 736 485 743 484 750 484 756 481.5 762 480 774 479.5 785 480 792 479 792 479 793 479.4 788.3 481.2 782.7 482.7 776 483.6 769.4 484.6 771 486.5 772.8 488.5 774.2 493 777 495 778.9 497.8 781.7 503.4 783.6 497.8 785.5 501.5 785 506.3 787.4 498.7 791.2 500.6 794 506.3 795 502.5 796.4 507.2 797.8 500.6 801.5 501.5 805.3 505.3 810 508.2 815.7 509 818.5 512.4 820.4 514.8 820.4 520.4 818.5 523.3 821.4 526.1 823.3 529.9 826.1 532.7 829.9 530.8 829.9 530.8 835.5 531.8 839.3 534.6 843.1 537.4 843.1 537.4 842.2 540.3 838.4 542.2 836 546 830 549 825 551 823 555 821 559 823 563 825 566 831 567 830 572 825 573.5 820 575 815 577 810 579 811 584 812 589 808 593 805 596 810 601 815 606 820 611 824 615 824 615 828 614 832 614 836 617 839 620 837 625 835 630 839 632 844 634 847 640 850 645 847 650 844 655 841 664 839 672 841 681 844 690 848 696 852 702 859 707 867 711 871 709 875 707 880 703 885 700 891 698.5 897 697 902 695 907 694 913 693 920 692 920 692 925 695 930 696 934 695 937 694 935 690 934 686 935 682 937 680 943 681 950 681 956 680 962 679 967 682 972 685 972 685 977 687.5 982 689 987 686 993 685.5 1000 684 1006 686 1012 687 1017 682 1021 676 1025 670 1028 663 1032 657 1036 652 1040 647 1043 643 1046 640 1046 640 1045 636 1045 632 1047.5 632.5 1050 635 1053 640 1054 645 1054.5 650 1056.5 656 1057.5 662 1058.7 667 1061 673 1064 680 1067 686 1069.5 690 1070 692 1072 692 1072 730 57 730 57 287Z" fill="#fff"/>
<path d="M279.6 58 278 64 281 67 284.5 69.7 283 72 284.5 75.5 288.6 82 292.7 87 295 94.3 299.3 98.4 303.4 100 304 105.7 307.5 110.6 314 113 317.3 118 319.7 123.7 322 128.6 327 130.3 333.6 128.6 338.5 127.8 341.8 123.7 343.5 118.8 345 112.3 346.7 104 347.5 94.3 346.7 86 343.5 78 340 68 335.3 58Z" fill="#fff"/>
<path d="M393.4 127.8 398.3 128.6 399 133.5 402.4 140 404.8 146.6 408 153 409.7 159.7 406.5 163.8 404 161.4 402.4 156.5 398.3 150 394.2 145.8 389.3 144.2 386.8 141.7 391 136.8Z" fill="#fff"/>
<path d="M555.6 484 551.3 489.8 546.2 497 541.8 503 545.5 508.7 550.5 514.5 551.3 519.6 555 521 562.2 518.2 567.3 514.5 568 504.4 563.6 495.6 558.5 488.4Z" fill="#ffdbe0"/>
<path d="M59 288.4 66.6 287.6 72.5 286.2 74 287.6 68 291.3 59 292Z" fill="#f0b6b8"/>
<path d="M812.9 526.1 820.4 525.2 821.4 528.9 814.8 530.8 812 529.9Z" fill="#f0b6b8"/>
<g fill="none" stroke="#000" stroke-width="1" shape-rendering="crispEdges">
<path d="M59 287 63.7 285.5 71 281.8 79.7 276 86.3 268.7 88.5 260 91 255 91 240 93 233 95 230 101 226 107 224 120 222 132 220 137 218 142 216 155 217 167 217 170 215 173 214.5 176 216 174 218 180 220 184 225 183 230 180 235 174 242 170 247 167 252 165 258 165 262 162 264 160 267 163 270 161 273 165 275 163.4 271.6 165 275 162 279 159.7 287.6 157.5 295 155.4 300.7 154 305"/>
<path d="M154 305 151 296.4 149.5 293.5 151.7 289 152.5 284 151 282.5 148 287.6 146 292 143.7 291.3 140 292.7 136.5 299.3 134.3 303.6 131.4 305.8 126.3 303.3 124.8 303.6"/>
<path d="M124.8 303.6 123.4 308 124 329.8 122.6 354.5"/>
<path d="M122.6 354.5 130 355.3 134.3 354.5 138 359 139.4 355 142.3 356 146.6 359"/>
<path d="M150.3 302.2 148 308 146.6 312.4 146 315.3 147.4 321 146.6 328.4 144.5 335.6 140.8 341.5 136.5 345.8 132 350.2 130 353 134.3 354.5"/>
<path d="M146.6 359 151 356.5 155.4 354.5 159 356 162.6 355.3 165 357.5 168.5 356.7 172 355 175.7 356 180 357.5 186 356.7 190 355 194.6 354.5 199 352.5 203.4 351.6 206 353.5 209 353 214 355.5 220 354 225.3 352.4 230 354.5 234.2 356 239 356 243 357 246.7 362.2 251 364 255.6 365.8 260 368 264.4 370.2 268 374.7 271 376"/>
<path d="M271 376 268 382.7 270 387 270.7 391.6 268 397 265.3 402.2 264 408 262.7 414.7 262 422 261.8 429 262.7 437 258.2 439.6 259 446.7 257 450 255.6 453.8 259 457.3 257 461 254.7 464.4 255 468 255.6 471.6 258 475 260.3 479"/>
<path d="M260.3 479 264 485 268.5 490.7 273 497 278 502.5 281 506 285 509.6 289.5 513 294.5 516.7 299 520 304 522.6 310 525.5 315.8 527.4 321 526.5 327.6 525 334 522 341.8 519 347 516 353.6 513 357 510.5 360.7 507.3 367 509 375 509.6 382 511 389 513 395 516 401 520.3 407 525 412.7 529.7 417 534 422.2 539.2 423.5 543 424.5 547.5 428 547.5 427.5 541 427 535.6 424.5 532 429 530 434 527.4 439 523 443.5 519 446 515 448 512 452 510.5 456.5 509.6 457.6 503 457.6 497.8 456.5 490.7 458 486 460 481.3"/>
<path d="M460 481.3 463 478 467 475 471 472.5 475 471 480 473 485 474 487 470 489 467 492 465 495 464 500 465.5 505 466 510 464 515 462 520 460 527.3 455.6 534.5 452.7 539.6 449 541 446 541.8 444 545 441.5 549 439.6 553.5 437.5 559.3 438.2 563.6 441.8 566.5 447 563.6 451.3 557.8 454.2 551.3 455.6 545.5 457.8"/>
<path d="M545.5 457.8 547 465 550.5 472.4 554.2 479 555.6 484"/>
<path d="M555.6 484 557 479 557.8 475.3 563.6 472.4 569 470 575.3 467.3 580 465.5 585.5 463.6 592.7 461.5"/>
<path d="M592.7 461.5 590.5 459 588.4 456.4 586.5 452 586.2 449 588.4 447 592.7 444.7 596.4 445.5 598.5 449.8 598.5 456.4 600 459.3 598.5 462 601.5 462"/>
<path d="M601.5 462 606 460.5 611.6 460 617 460.8 621.8 462 625 464 629 466.5 632 469 635 471 636 475 636.4 478 637.5 481 639.3 484 642 485.5 645 486 651 485 658 484 665 484 670 482.5 680 481.8 687 482 691 487 695 490 700 492 705 493.5 710 494 717 496 721 495.5 725 494 729 491 732 489 736 485 743 484 750 484 756 481.5 762 480 774 479.5 785 480 792 479"/>
<path d="M792 479 793 479.4 788.3 481.2 782.7 482.7 776 483.6 769.4 484.6 771 486.5 772.8 488.5 774.2 493 777 495 778.9 497.8 781.7 503.4 783.6 497.8 785.5 501.5 785 506.3 787.4 498.7 791.2 500.6 794 506.3 795 502.5 796.4 507.2 797.8 500.6 801.5 501.5 805.3 505.3 810 508.2 815.7 509 818.5 512.4 820.4 514.8 820.4 520.4 818.5 523.3 821.4 526.1 823.3 529.9 826.1 532.7 829.9 530.8"/>
<path d="M829.9 530.8 835.5 531.8 839.3 534.6 843.1 537.4"/>
<path d="M843.1 537.4 842.2 540.3 838.4 542.2 836 546 830 549 825 551 823 555 821 559 823 563 825 566 831 567 830 572 825 573.5 820 575 815 577 810 579 811 584 812 589 808 593 805 596 810 601 815 606 820 611 824 615"/>
<path d="M824 615 828 614 832 614 836 617 839 620 837 625 835 630 839 632 844 634 847 640 850 645 847 650 844 655 841 664 839 672 841 681 844 690 848 696 852 702 859 707 867 711 871 709 875 707 880 703 885 700 891 698.5 897 697 902 695 907 694 913 693 920 692"/>
<path d="M920 692 925 695 930 696 934 695 937 694 935 690 934 686 935 682 937 680 943 681 950 681 956 680 962 679 967 682 972 685"/>
<path d="M972 685 977 687.5 982 689 987 686 993 685.5 1000 684 1006 686 1012 687 1017 682 1021 676 1025 670 1028 663 1032 657 1036 652 1040 647 1043 643 1046 640"/>
<path d="M1046 640 1045 636 1045 632 1047.5 632.5 1050 635 1053 640 1054 645 1054.5 650 1056.5 656 1057.5 662 1058.7 667 1061 673 1064 680 1067 686 1069.5 690 1070 692"/>
<path d="M278 64 281 67 284.5 69.7 283 72 284.5 75.5 288.6 82 292.7 87 295 94.3 299.3 98.4 303.4 100 304 105.7 307.5 110.6 314 113 317.3 118 319.7 123.7 322 128.6 327 130.3 333.6 128.6 338.5 127.8 341.8 123.7 343.5 118.8 345 112.3 346.7 104 347.5 94.3 346.7 86 343.5 78 340 68"/>
<path d="M393.4 127.8 398.3 128.6 399 133.5 402.4 140 404.8 146.6 408 153 409.7 159.7 406.5 163.8 404 161.4 402.4 156.5 398.3 150 394.2 145.8 389.3 144.2 386.8 141.7 391 136.8Z"/>
<path d="M555.6 484 551.3 489.8 546.2 497 541.8 503 545.5 508.7 550.5 514.5 551.3 519.6 555 521 562.2 518.2 567.3 514.5 568 504.4 563.6 495.6 558.5 488.4Z"/>
<path d="M66.6 287.6 72.5 286.2 74 287.6 68 291.3"/>
<path d="M59.5 287 59.5 726.5 1070 726.5"/>
<path d="M1069.5 691 1069.5 726.5"/>
<path d="M843.1 537.4 846.9 536.5 850.7 539.3 854.4 542.2 858 545.5 862 550 867 555 871 560 874 564 876 567 876 572 872 575 871 580 871 585"/>
<path d="M876 572 880 573.5 885 575 890 578.5 895 582 899 586 902 590 906 593 910 595 917 595.5 925 596 932 597.5 939 599 940 596 948 596 957 596 966 596.5 975 597 981 599 986 601 993 602.5 1000 604 1006 605.5 1012 607 1019 612 1025 617 1030 622 1035 627 1039 631 1042 635 1044 638 1046 640"/>
<path d="M910 595 909.5 600 909 605 907 610 905 615 898 619 892 622 890 627 889 632 887 637 886 642 889 647 892 652 898 656 905 660 906 665 907 670 910 675 914 680 917 686 920 692"/>
<path d="M986 601 983 605.5 980 610 977 615 975 620 975 628 976 635 978 640 980 645 982.5 648.5 985 652 983.5 658 982 665 979.5 671 977 677 974.5 681 972 685"/>
<path d="M769.4 484.6 766.6 485.5 765.2 488.3 765.7 491.2 764.2 495.4 767.6 496.4 769.4 497.3 772.3 495.9 774.2 493"/>
<path d="M798.7 531.8 804.4 534.6 808.2 535.5 812.9 534.6 814.8 531.8 820.4 530.8 823.3 529.9"/>
<path d="M799.5 532.6 806 533.2 810 531.5 812 529.9 812.9 526.1 816.7 516.7"/>
<path d="M801 533.4 808 534.3 811 532.5 814.8 530.8 821.4 528.9 820.4 525.2 812.9 526.1"/>
<path d="M811 524.2 813.8 520.4 816.7 516.7 820.4 514.8"/>
<path d="M809 529.9 811 524.2"/>
<path d="M803 532.2 809 532.5 813.5 528 817 523 819.5 518"/>
<path d="M79.7 308.4 123.4 308.4"/>
<path d="M79.7 308.4 79.4 321 68.8 321.8 72.5 325 76.8 328.4 82 332 86.3 335 88 338 89.2 340.7 94 341.7 93.5 346 93 350.2 59.4 351"/>
<path d="M146.6 359 140 364 133.5 369 128 373 124 376 124 380.5 124 385 119 388 114 391"/>
<path d="M114 391 110 394 107 397 104 401 101 406"/>
<path d="M114 391 118 390.5 122 391 126 394 130 397 135 400 140 402 145 400.5 150 400 155 403 159 405 158 410 157 415 158.5 418.5 160 422"/>
<path d="M271 376 261 379 250 382 243 384 237 385 233 382.5 230 381 226 383.5 222 386 221.5 390 221 394 216 399 210 404 205 402 200 400 196 403 192 406 188 406 184 406 184.5 412 185 417 182 418.5 179 420 178 422.5 177 425 172 425.5 167 426 163 424.5 160 422"/>
<path d="M59.4 396 67 398.5 75 401 83 402 90 402 96 404 101 406 106 408.5 110 411 122 415 135 419 145 420 155 420 158 422 160 425 157 423 161 421 164 424 162 427 166 431 170 435 176 440 182 445 186 450 190 455 197 461 205 467 208 469 209.5 468.3"/>
<path d="M209.5 468.3 215 470.5 221.3 473 227 472.5 233 471.8 239 474 245 476.5 250 478.5 254.4 480 260.3 479"/>
<path d="M209.5 468.3 206 471.5 203.5 474.2 206.5 478 209.5 481.3 207 485 204.7 488.4 206.5 492 208.3 495.5 211 500 214.2 504.9 218 507 222.5 508.5 226 505 229.5 501.4 232.5 504.5 235.5 507.3 241 510 247.3 512 252 515.5 256.7 519 259 522.5 261.5 526.2 260 530 259 533.3 262.5 534.5 266.2 535.6 265 532.5 263.8 529.7 267.5 530 271 531 272 534.5 273.3 538 275.5 541 278 544"/>
<path d="M219 490.7 223.5 495.5 228.4 500.2 226 504 223.6 507.3"/>
<path d="M278 507.3 277.4 513 276.8 519 279 521.5 281.5 523.8 279.5 527.5 278 531 278.6 534.5 279.2 538 278 544"/>
<path d="M278 539.2 284 538.5 289.8 538 295.5 539.5 301.6 541.5 305 545 308.7 548.6 311 551.5 313.5 554.5 317 552 320.5 549.8 321.5 553.5 323 557 325 561 327.6 565.2 332 564.8 337 564 342.5 561 347.7 558 346 554.5 344.2 551 340.5 547.5 337 544 338 541.5 339.5 539.2 345.5 535.5 351.3 532 355 528.5 358.4 525 364 522.5 370.2 520.3 375 524 379.6 527.4 384.5 531.5 389 535.6 392.5 538.5 396.2 541.5 392.5 543 389 544 388.5 546.5 388 548.6 392 553.5 396.2 558 399 561.5 402 565.2"/>
<path d="M386.7 533.3 391.5 535 396.2 536.8 400.5 540 404.5 542.7"/>
<path d="M402 565.2 403.3 560 404.5 554.5 409.2 557 413.5 552.5 417.5 548.6 416 543 415 538 413 533.5 411.5 529.7"/>
<path d="M402 565.2 405 569.5 408 573.5 411 578 414 583 412.5 588 411.5 592.4 414 597 416.3 601.8 412.5 604.5 409.2 606.5 411.5 610 414 613.6 414.5 619.5 415 625.5 414 630 412.7 635 409 637 416 640 416 646 420 646 418.5 650.5 417 655 413.5 658.5 410 662 407.5 666 405 670 402.5 672.5 400 675 395.5 676 391 677 387.5 678.5 384 680 382 683.5 380 687 382 691 384 695 379 697.5 374 700 375.5 703.5 377 707 383.5 711 390 715 395 717.5 400 720 405 722.5 410 725 413 727"/>
<path d="M346 727 347 720 352 718 357 716 362 715 367 714 371 711.5 375 709 374.5 704.5 374 700"/>
<path d="M545.5 457.8 541.8 463.6 539 469.5 533 471 528.7 476.7 524.4 484 521.5 489.8 520.7 498.5 520 503 517 507 511 517 515 516 519 515 522 517.5 525 520 527 525 529 530 532.5 533.5 536 537 536 541 536 545 534 546 532 547 532 553 532 559 536 560.5 540 562 542.5 566 545 570 552 570 560 570 568 568.5 577 567 584 569.5 590 572 595 576.5 600 582 602.5 586.5 605 591 610 590.5 615 590 623 589.5 632 589 641 588 650 587 653.5 590.5 657 594 654 597 651 600 651.5 603.5 652 607 649 608.5 646 610 646.5 620 647 630 650.5 640 654 649 657 654 660 659 653 665 646 671 651 673.5 656 676 659 680.5 662 685 664 692 666 700 667.5 705.5 669 711"/>
<path d="M824 615 824 622 819.5 626 815 630 810 631 805 632 801 634.5 797 637 791 639 785 641 780 641.5 775 642 773 647 771 652 768 653 765 654 761 649.5 757 645 752 645.5 747 646 743 645.5 739 645 737 642.5 735 640 728 638 721 636 722 640 726 643.5 730 647 733 651 736 655 735.5 660 735 665 737.5 668.5 740 672 740 680 748 681 756 682 755 687 750 689.5 745 692 742 694.5 739 697 737 701 735 705 730 707.5 725 710 718 712.5 712 715 708.5 719.5 705 724 702.5 720.5 700 717 695 719 690 721 686 721.5 682 722 678.5 719.5 675 717 669 711"/>
<path d="M669 711 664 710 664.5 705 665 700 662.5 693.5 660 687 657 688.5 654 690 649.5 693.5 645 697 641 694.5 637 692 637 699 597 699 597 714 612 716 614 727"/>
</g>
<g fill="none" stroke="#000" stroke-width="1" shape-rendering="crispEdges">
<path d="M227.3 209.4 231.6 207.2 237.5 205.7 241.8 204.3 239.6 200.6 241.8 196.3 246.2 192.6 253.5 188.3 263.6 183.9 275.3 181 285.5 179.5 291.3 177.4 300 177.4 310.2 178.8 319 178 326.2 176.6 330.5 177.4 336.4 179.5 343.6 180.3 351 183.2 355 186.5 359.6 192.6 365.8 196 374.5 196.7 381.8 199 389 201.8 396.4 206.2 402.2 209 408 211.3 413.8 215 418.2 214.2 422.5 217.8 427 221.5 432.7 223.6 438.5 223 443 225.8 447.3 228 454.5 227.3 457.5 231 453 234.5 453 237.5 459 237.5 466.2 237.5 476.4 239 480.7 242.5 486.5 247 492.4 248.4 491.6 252 486.5 254.2 479.3 255 470.5 255.6 467.6 254.2 464.7 256.4 453 256.4 441.5 256.4 429.8 257 418.2 258.5 405 259.3 406.5 254.2 412.4 249.8 418.2 247 419.6 242.5 416 238.2 408 237.5 399.3 236.7 393.5 233.8 387.6 228.7 384.7 222.2 381.8 217 379 215.6 371.6 216.4 362.5 216 353.8 213 346.5 210 340.7 207.2 339.3 204.3 336.4 202 337.8 205 329 205 321 204.3 319.6 200 319 204.3 314.5 203.5 307.3 202 301.5 200 295.6 197 300 196.3 305.8 195.5 308.7 193.4 305.8 191.2 298.5 189.7 289.8 189 282.5 189.7 278.2 191.2 272.4 195.5 268 199.2 262.2 200.6 256.4 202 251.3 203.5 249 207.2 243.3 208.6 239 212.3 233 210Z"/>
<path d="M273.8 208.6 278.2 207.2 284 208 284.7 211.5 286.2 216 282.5 218.8 277.5 220.3 273 218.8 270.2 216 273 215.2 274.5 212.3Z"/>
<path d="M296.4 216.6 300 215.5 303.6 214.5"/>
<path d="M310.2 216 312.7 214.6 315.3 213.3"/>
<path d="M363.6 227.3 370.2 231.6 377.5 236 383.3 239 389 241.8"/>
<path d="M381.8 239 387 237.6"/>
<path d="M346 263 350 262 355 261"/>
<path d="M351 183.2 359.6 186.8 365.5 189.7 372.7 191.2 380 192.6"/>
<path d="M360 188.7 365.8 191 374.5 190.2"/>
<path d="M379 193 389 193.8 393.5 197.5 397.8 200.4 402.2 199 403.6 203.3 400.7 206.2 405 207 409.5 210.5 413.8 212.7 418.2 214.2 419 219.3 415.3 219.3 416 215.6"/>
<path d="M395 196.5 399 198 400 202 397 203"/>
<path d="M424 222.2 429.8 223 434.2 224.4"/>
<path d="M453.5 233 456 234 458 237"/>
<path d="M466 253.5 468.5 255.5"/>
<path d="M315 271 318 270.5 321 271 318 272Z"/>
<path d="M389 296 391.5 294 394 292 400 291.5 407 291 414 292 422 293 429 295 435 297 438.5 301 442 305 438 305.5 435 305 430 304.5 426 304 422.5 307 419 310 414 308.5 410 307 405 305.5 400 304 395 301.5 391 299Z"/>
<path d="M508.4 260.4 510.5 258.2 516.4 256.7 522.2 256 530.2 257.2 535.3 259.6 541 261 548.4 262 551.3 261.5 552 258.2 558.5 258.2 564.4 259 568.7 256.3 574.5 258.2 580.4 259.6 584.7 261.8 589 264 595 262.5 597.8 268.4 600.7 271.3 603.6 272.3 611.6 270.8 613.8 272.7 612.4 274.2 603.6 274.2 603.6 276.4 608 277.8 615.3 279 621 279 627 282.2 631.3 285 635 288.7 632.7 293 628.4 296 627.6 299.6 624 299.6 624.7 296 621.8 293 615.3 292.4 608 293 600.7 292 595 293 590.5 296.7 586.2 298.2 580.4 298.2 579 293.8 574.5 294.5 568.7 297.5 565 304 561.5 309.8 558.5 314.2 556.4 314.2 554.2 309.8 551.3 304 550.5 299.6 548.4 298.2 542.5 297.5 535.3 298.2 523.6 299.6 516.4 298.2 509 298.2 504 299 501.8 301.8 499.6 301.8 496 298.2 490.2 296 485.8 294.5 483.6 291.6 485.8 288 491.6 287.3 500.4 288.7 509 291 517.8 291.6 525 292.4 531 291 536 290.2 536.7 287.3 532.4 284.4 528 280.7 525 277.8 527.3 273.5 525.8 269 522.2 265.5 516.4 264 511.3 263.3Z"/>
<path d="M551.3 261.5 552 266.2 551.3 270.5 553.5 275 549.8 279.3 551.3 283.6 548.4 288 544.7 288.7 547 293 551.3 296 550.5 299.6"/>
<path d="M512.7 281.5 516.4 280 523.6 283 525 285 520.7 285.8 515 283.6Z"/>
<path d="M521.5 253 525 252.4 528.7 254.5 526.5 255.3Z"/>
<path d="M661 292 663 291 665 290 675 290.8 685 291.8 700 293 701 295 702 297 698.5 299.5 695 302 688 303 682 304 673 304.5 664 305 663 302.5 662 300 661.5 296Z"/>
<path d="M646.4 301 646 302 645 302.4 644 302 643.6 301 644 300 645 299.6 646 300Z"/>
<path d="M702 301 706 299.8 710 299 706 300.8Z"/>
<path d="M714 296 719.5 294 725 292 728.5 291.6 732 292 728 293 723 294 718 296Z"/>
<path d="M730 286 732.5 285.6 735 286 732.5 286.6Z"/>
<path d="M719 310 723 309 727 308.7 723 310.3Z"/>
<path d="M762 297 764 298.5 765 302 763 300.5Z"/>
<path d="M754.8 289 754.4 289.7 753.6 289.7 753.2 289 753.6 288.3 754.4 288.3Z"/>
<path d="M770.2 306 769.6 306.9 768.4 306.9 767.8 306 768.4 305.1 769.6 305.1Z"/>
<path d="M759.8 312 759.4 312.7 758.6 312.7 758.2 312 758.6 311.3 759.4 311.3Z"/>
<path d="M766.9 315 766.5 315.8 765.5 315.8 765.1 315 765.5 314.2 766.5 314.2Z"/>
<path d="M769 318 772 319.5 775 322 776.5 325 774 323.5 771 321Z"/>
<path d="M795.8 312 795.3 313.4 794 314 792.7 313.4 792.2 312 792.7 310.6 794 310 795.3 310.6Z"/>
<path d="M792 325 795 324.5 797 326.5 796.5 329 793.5 328.5Z"/>
<path d="M786.3 334 785.9 335.1 785 335.6 784.1 335.1 783.7 334 784.1 332.9 785 332.4 785.9 332.9Z"/>
<path d="M795 343.5 798 342.5 800 346 799.5 350 797 352 795 349Z"/>
<path d="M801 340 804 339.5 806.5 342.5 805 346 802 344Z"/>
<path d="M808.7 354 808.2 355.2 807 355.7 805.8 355.2 805.3 354 805.8 352.8 807 352.3 808.2 352.8Z"/>
<path d="M799.9 355 799.5 355.6 798.5 355.6 798.1 355 798.5 354.4 799.5 354.4Z"/>
<path d="M813.5 343.5 813 344 812 344 811.5 343.5 812 343 813 343Z"/>
<path d="M802.5 362.5 805 361 807.5 363 808.5 367 807 371 804.5 370 803 366Z"/>
<path d="M809 380 811.5 379.2 814 379.5 816.5 382 819 385 819.5 388 818.5 390.5 814.5 390 812.5 387 811 384Z"/>
<path d="M813 400 815 397.5 816.5 398 817.5 402 816 406 814 407.5 812.5 405Z"/>
<path d="M807.5 417 810 415.5 811.7 417 811.5 420 809.5 422.5 807.5 421Z"/>
<path d="M810.3 424.5 809.9 425.2 809.1 425.2 808.7 424.5 809.1 423.8 809.9 423.8Z"/>
<path d="M810.8 427.5 810.4 428.2 809.6 428.2 809.2 427.5 809.6 426.8 810.4 426.8Z"/>
<path d="M807.1 431.5 806.7 432.2 805.9 432.2 805.5 431.5 805.9 430.8 806.7 430.8Z"/>
<path d="M803.8 436.5 803.4 437.5 802.6 437.5 802.2 436.5 802.6 435.5 803.4 435.5Z"/>
<path d="M795.5 445 798 443 800 444.5 799.5 448 797 449.5 795 448Z"/>
<path d="M847.5 417 849.5 416 852 419 852.5 422 850.5 424 848 421Z"/>
<path d="M818.5 469 821.4 466.6 826.1 464.2 827 465.7 823.3 468.5 819.5 470.4Z"/>
<path d="M797.8 480.3 801.5 479.8 809.1 478.4 816.7 477.5 816.2 478.9 814.3 480.3 814.3 488.3 815.2 490.2 814.3 492.1 814.3 495 807.2 495.9 799.7 495.4 795 495.9 791.2 496.4 795.9 494 800.6 491.6 803 490.7 802.5 482.7 802 481.2Z"/>
<path d="M614.5 439.6 616.5 440.5 620 443.5 623 446 624 448.4 621 447 617.5 444 615 441.5Z"/>
<path d="M632.7 441.8 636 442.5 637 445 637.8 447.6 635.5 447.6 634 444.5Z"/>
<path d="M651.3 448 650.9 449.1 650.1 449.1 649.7 448 650.1 446.9 650.9 446.9Z"/>
<path d="M592.7 433.8 594.5 436.5 596.4 439"/>
<path d="M670.5 453.5 674 453 677 452.5"/>
<path d="M671 455 674.5 454.6"/>
<path d="M689.3 454 688.6 454.7 687.4 454.7 686.7 454 687.4 453.3 688.6 453.3Z"/>
<path d="M727.4 452 727 452.8 726 453.2 725 452.8 724.6 452 725 451.2 726 450.8 727 451.2Z"/>
<path d="M706 474 711 474 711 476.7 706 475.7Z"/>
<path d="M730 472 733 471.3 736 471 738 472.5 740 474 742 471.5 744 469 745 470.5 746 472 745 474.5 744 477 740 477 736 477 733 475.5 730 474Z"/>
<path d="M736 478.5 735.5 479 734.5 479 734 478.5 734.5 478 735.5 478Z"/>
<path d="M743.2 479.3 742.6 479.8 741.4 479.8 740.8 479.3 741.4 478.8 742.6 478.8Z"/>
<path d="M734 484.5 742 484 750 484 745 485.2 740 486Z"/>
<path d="M731.2 489 730.6 489.9 729.4 489.9 728.8 489 729.4 488.1 730.6 488.1Z"/>
<path d="M373.7 92.6 376.5 94.3 379.5 96 382 93 384.4 90.2 387 91.4 389.3 92.6 395 92.2 400.7 91.8 400.7 94.3 395 94.3 389.3 94.3 385 95.7 381 97.2 377 95Z"/>
<path d="M399 87 403 87 407.3 87 410.5 89.4 413.8 91.8 417.5 94.2 421.2 96.7 421.6 99.6 422 102.5 420 104 418 105.7 417.5 109 417 112.3 415 110.6 413 109 415 106.5 417 104 418 101 418.7 98.4 416 96.3 413.8 94.3 410.5 91.8 407.3 89.4 403 88Z"/>
<path d="M367.3 115.5 366.9 116.5 366.1 116.5 365.7 115.5 366.1 114.5 366.9 114.5Z"/>
<path d="M367 120.5 366.7 121 366.1 121 365.8 120.5 366.1 120 366.7 120Z"/>
<path d="M401.6 114.7 401.1 115.5 400.2 115.5 399.8 114.7 400.2 113.9 401.1 113.9Z"/>
<path d="M401.3 123 401 123.5 400.4 123.5 400.1 123 400.4 122.5 401 122.5Z"/>
<path d="M408 132.7 411.3 131.3 414.6 131 411.3 132.5Z"/>
<path d="M427 119 429 121.5 431 124 435 125.5 439 127 441.5 129 444 131 443 134 442 137 441.5 139 441 141 440 139 439 137 440.5 134.5 442 132 439.5 130.5 437 129 434 127 431 125 429 122Z"/>
<path d="M452 140 454.5 143 457 146 460.5 150 464 154 461.5 154 459 154 460 152.5 461 151 458.5 148.5 456 146 454 143Z"/>
<path d="M427.6 145 427.3 145.7 426.7 145.7 426.4 145 426.7 144.3 427.3 144.3Z"/>
<path d="M433 150 436 154 439 158"/>
<path d="M446 165 449 167.5 452 170 455.5 171.2 459 172"/>
<path d="M462 165 464.5 170 467 175 471 178.5 475 182 475 185 472 182 469 179 467 175.5 465 172 463.5 168.5Z"/>
<path d="M485.5 157.5 484.5 158.8 483.2 159.1 482.4 158.1 482.5 156.5 483.5 155.2 484.8 154.9 485.6 155.9Z"/>
<path d="M475.3 165.5 474.8 166.2 473.5 166.5 472.2 166.2 471.7 165.5 472.2 164.8 473.5 164.5 474.8 164.8Z"/>
<path d="M469.2 161.2 468.9 161.6 468.4 161.6 468.2 161.2 468.4 160.8 468.9 160.8Z"/>
<path d="M487.3 186.5 491 187.3 495.3 189.5 499.6 188.7 499 193.8 493.8 198.2 488.7 202.5 490.2 200.4 495.3 196.7 497.5 192.4 493.8 191 489.5 189.5 486.5 193 488.7 188.7Z"/>
<path d="M503 180 502.2 180.7 500.8 180.7 500 180 500.8 179.3 502.2 179.3Z"/>
<path d="M505 192.3 508.5 191.6"/>
<path d="M516 196 521 196.6 526 198 521 198Z"/>
<path d="M503.3 230.2 505.5 227.3 509.8 225.8 514.2 225.8 517.8 223.6 518.5 219.3 520.5 217.8 522 220 520 225 517 228.7 511.3 232 504 232.4Z"/>
<path d="M534 214 535.5 212 537 210 541 208.5 545 207 551 209.5 557 212 558 214 559 216 556.5 214 554 212 549.5 211 545 210 542 211 539 212 536.5 213.5Z"/>
<path d="M553.1 222.5 552.8 223 552.2 223 551.9 222.5 552.2 222 552.8 222Z"/>
<path d="M565 220 566 222.5"/>
<path d="M451 197 452 199.5 453 202"/>
<path d="M359.6 169.4 358.6 169.6 357.6 168.9 357.4 168 358.4 167.8 359.4 168.5Z"/>
<path d="M282 61.5 286 62 290.3 64 288 67.8 285 69.4 283 66.5 284.5 64Z"/>
<path d="M292.7 85.3 300 85.3 296.8 87.7 299.3 93.5 305 92.6 300 96 298.5 99"/>
<path d="M319.7 123.7 322.5 125 325.5 126.5 323 128.8"/>
<path d="M304 144 309 142.5 316.5 140 317 141.4 310 143.3Z"/>
<path d="M320.5 141 327 139.3 332 136 337 132 340 127.8"/>
<path d="M176.5 247 178 243 181.5 240.5 182 242.5 179.5 246 177.5 248.5Z"/>
<path d="M170 286 169 290 167.7 293.5"/>
<path d="M155.4 314.5 157 314.5 158 320 155.8 320.5Z"/>
<path d="M147.5 311 151.5 311 151 315.3 147 314Z"/>
<path d="M156 296 157.5 299 155.5 303 153.8 305"/>
<path d="M186.6 344.4 192 342.5 197.5 341.5 192 343.6Z"/>
<path d="M203.4 340.7 206.3 339.3 205 340.8Z"/>
<path d="M179.6 350 179.1 350.5 178.1 350.5 177.6 350 178.1 349.5 179.1 349.5Z"/>
<path d="M111.8 194.2 111.9 195.6 111 195.9 110.2 194.8 110.1 193.4 111 193.1Z"/>
<path d="M304 556 307.5 555 308.7 560 308 565 305 563 303.5 559Z"/>
<path d="M370.2 536 373 535.6 373 540.5 371 541Z"/>
<path d="M375 536 377 536.5 376 541.5Z"/>
<path d="M291 513.2 294 514 297 515.5 294.5 519 299 519.5 304 520.3"/>
<path d="M481 475 484 474.5 487 476 486 479 482 478.5Z"/>
<path d="M248 357.5 253 361 258 364 262 367.5"/>
<path d="M261.5 437 260 442 259.5 447 258 452"/>
</g>
<g fill="#000" shape-rendering="crispEdges">
<rect x="296" y="143" width="2" height="2"/>
<rect x="251" y="316" width="1" height="1"/>
<rect x="279" y="389" width="2" height="2"/>
<rect x="314" y="415" width="2" height="2"/>
<rect x="306" y="435" width="2" height="2"/>
<rect x="273" y="444" width="1" height="1"/>
<rect x="348" y="356" width="1" height="1"/>
<rect x="381" y="354" width="1" height="1"/>
<rect x="345" y="409" width="1" height="1"/>
<rect x="470" y="293" width="1" height="1"/>
<rect x="749" y="359" width="1" height="1"/>
<rect x="174" y="605" width="2" height="2"/>
<rect x="309" y="643" width="2" height="2"/>
<rect x="84" y="724" width="1" height="1"/>
<rect x="400" y="114" width="1" height="1"/>
<rect x="400" y="122" width="1" height="1"/>
<rect x="472" y="165" width="1" height="1"/>
<rect x="468" y="161" width="1" height="1"/>
<rect x="645" y="301" width="1" height="1"/>
</g>
</g>
<rect x="59" y="59" width="1011" height="1" fill="#2a1a1c"/>
<g stroke="#111" stroke-width="1">
<line x1="54" y1="133.5" x2="59.5" y2="133.5"/>
<line x1="54" y1="255.5" x2="59.5" y2="255.5"/>
<line x1="54" y1="376.5" x2="59.5" y2="376.5"/>
<line x1="54" y1="497.5" x2="59.5" y2="497.5"/>
<line x1="54" y1="619.5" x2="59.5" y2="619.5"/>
<line x1="103.5" y1="726.5" x2="103.5" y2="733.5"/>
<line x1="348.5" y1="726.5" x2="348.5" y2="733.5"/>
<line x1="593.5" y1="726.5" x2="593.5" y2="733.5"/>
<line x1="838.5" y1="726.5" x2="838.5" y2="733.5"/>
</g>
<g font-size="13.33" fill="#1a1a1a">
<text x="49.5" y="140.5" text-anchor="end">25°N</text>
<text x="49.5" y="262.5" text-anchor="end">20°N</text>
<text x="49.5" y="383.5" text-anchor="end">15°N</text>
<text x="49.5" y="504.5" text-anchor="end">10°N</text>
<text x="49.5" y="626.5" text-anchor="end">5°N</text>
<text x="106.8" y="756.6" text-anchor="middle">90°W</text>
<text x="351.8" y="756.6" text-anchor="middle">80°W</text>
<text x="596.8" y="756.6" text-anchor="middle">70°W</text>
<text x="841.8" y="756.6" text-anchor="middle">60°W</text>
</g>
<text x="197.5" y="37.3" font-family="Liberation Serif,serif" style="font-family:'Liberation Serif',serif" font-weight="bold" font-size="17.4" textLength="731.5" lengthAdjust="spacingAndGlyphs" fill="#000" stroke="#000" stroke-width="0.25">Anomaly of the Mean Temperature for the period September to November 2025</text>
<text x="789.5" y="138.6" textLength="97.5" font-weight="bold" font-style="italic" font-size="12.4" fill="#000" stroke="#000" stroke-width="0.45" lengthAdjust="spacingAndGlyphs">Atlantic Ocean</text>
<text x="425" y="382" textLength="94" font-weight="bold" font-style="italic" font-size="12.4" fill="#000" stroke="#000" stroke-width="0.45" lengthAdjust="spacingAndGlyphs">Caribbean Sea</text>
<text x="181.5" y="624.8" textLength="91" font-weight="bold" font-style="italic" font-size="12.4" fill="#000" stroke="#000" stroke-width="0.45" lengthAdjust="spacingAndGlyphs">Pacific Ocean</text>
<text x="642.4" y="811.3" text-anchor="middle" font-size="18.3" textLength="232.5" lengthAdjust="spacingAndGlyphs" fill="#111">Temperature Anomaly (˚C)</text>
<rect x="445" y="822" width="402.5" height="27" fill="#e9e4e6"/>
<rect x="445.5" y="822.5" width="50" height="26" fill="#8392cc"/>
<rect x="495.5" y="822.5" width="50" height="26" fill="#a4b8ff"/>
<rect x="545.5" y="822.5" width="50" height="26" fill="#7d9ab5"/>
<rect x="595.5" y="822.5" width="50.7" height="26" fill="#c8dfe6"/>
<rect x="646.2" y="822.5" width="51.1" height="26" fill="#fff0ef"/>
<rect x="697.3" y="822.5" width="50" height="26" fill="#ffdbe0"/>
<rect x="747.3" y="822.5" width="49.7" height="26" fill="#f0b6b8"/>
<rect x="797" y="822.5" width="50" height="26" fill="#ff9a9c"/>
<path d="M445.6 822.5L410 836L445.6 848.5Z" fill="#5b6a92"/>
<path d="M797 822.5H847V848.5H797Z" fill="none" stroke="#d9777b" stroke-width="0.7"/>
<path d="M847 822.5L882.5 836L847 848.5Z" fill="#ff8589" stroke="#d9777b" stroke-width="0.7"/>
<g font-size="12.6" fill="#1a1a1a" text-anchor="middle">
<text x="447.5" y="861.3" textLength="33" lengthAdjust="spacingAndGlyphs">-2.50</text>
<text x="497" y="861.3" textLength="33" lengthAdjust="spacingAndGlyphs">-1.50</text>
<text x="547" y="861.3" textLength="33" lengthAdjust="spacingAndGlyphs">-0.75</text>
<text x="597" y="861.3" textLength="33" lengthAdjust="spacingAndGlyphs">-0.25</text>
<text x="700.7" y="861.3" textLength="27.5" lengthAdjust="spacingAndGlyphs">0.25</text>
<text x="750.7" y="861.3" textLength="27.5" lengthAdjust="spacingAndGlyphs">0.75</text>
<text x="801" y="860" textLength="27.5" lengthAdjust="spacingAndGlyphs">1.50</text>
<text x="851" y="860" textLength="27.5" lengthAdjust="spacingAndGlyphs">2.50</text>
<text x="646" y="862" font-size="15" textLength="8.4" lengthAdjust="spacingAndGlyphs">0</text>
</g>
<g font-size="10.9" fill="#1a1a1a" text-anchor="middle" lengthAdjust="spacingAndGlyphs">
<text x="154.4" y="820.3" textLength="214" lengthAdjust="spacingAndGlyphs">Precipitation Map of the Caribbean Region.</text>
<text x="152.9" y="832.5" textLength="257.8" lengthAdjust="spacingAndGlyphs">Created by aggregating station based observations,</text>
<text x="152.5" y="845.1" textLength="288" lengthAdjust="spacingAndGlyphs">provided by CariCOF, with NCEP/NCAR Reanalysis Data.</text>
</g>
<text x="143.5" y="878.5" text-anchor="middle" font-size="8.6" textLength="67" lengthAdjust="spacingAndGlyphs" fill="#1a1a1a">CIMH Dec-2025</text>
<g>
<circle cx="1038.5" cy="837.3" r="39.8" fill="#fff" stroke="#111" stroke-width="1.3"/>
<clipPath id="wc"><circle cx="1038.5" cy="840.2" r="29.3"/></clipPath>
<g clip-path="url(#wc)"><path d="M1008.5 846.6q3.5 5 7 0q3.5 5 7 0q3.5 5 7 0q3.5 5 7 0q3.5 5 7 0q3.5 5 7 0q3.5 5 7 0q3.5 5 7 0q3.5 5 7 0V880H1008.5Z" fill="#1b8cff"/>
<g fill="none" stroke="#0a2a55" stroke-width="0.7">
<path d="M1008.5 846.6q3.5 5 7 0q3.5 5 7 0q3.5 5 7 0q3.5 5 7 0q3.5 5 7 0q3.5 5 7 0q3.5 5 7 0q3.5 5 7 0q3.5 5 7 0"/>
<path d="M1005.0 850.6q3.5 5 7 0q3.5 5 7 0q3.5 5 7 0q3.5 5 7 0q3.5 5 7 0q3.5 5 7 0q3.5 5 7 0q3.5 5 7 0q3.5 5 7 0q3.5 5 7 0"/>
<path d="M1008.5 854.6q3.5 5 7 0q3.5 5 7 0q3.5 5 7 0q3.5 5 7 0q3.5 5 7 0q3.5 5 7 0q3.5 5 7 0q3.5 5 7 0q3.5 5 7 0"/>
<path d="M1005.0 858.6q3.5 5 7 0q3.5 5 7 0q3.5 5 7 0q3.5 5 7 0q3.5 5 7 0q3.5 5 7 0q3.5 5 7 0q3.5 5 7 0q3.5 5 7 0q3.5 5 7 0"/>
<path d="M1008.5 862.6q3.5 5 7 0q3.5 5 7 0q3.5 5 7 0q3.5 5 7 0q3.5 5 7 0q3.5 5 7 0q3.5 5 7 0q3.5 5 7 0q3.5 5 7 0"/>
<path d="M1005.0 866.6q3.5 5 7 0q3.5 5 7 0q3.5 5 7 0q3.5 5 7 0q3.5 5 7 0q3.5 5 7 0q3.5 5 7 0q3.5 5 7 0q3.5 5 7 0q3.5 5 7 0"/>
</g></g>
<path d="M1022.9 816.5L1023.9 812L1024.9 816.5ZM1026.4 817.1L1030.3 814.6L1027.8 818.5ZM1028.4 820L1032.9 821L1028.4 822ZM1027.8 823.5L1030.3 827.4L1026.4 824.9ZM1024.9 825.5L1023.9 830L1022.9 825.5ZM1021.4 824.9L1017.5 827.4L1020 823.5ZM1019.4 822L1014.9 821L1019.4 820ZM1020 818.5L1017.5 814.6L1021.4 817.1Z" fill="#a8a430"/>
<circle cx="1023.9" cy="821.0" r="4.4" fill="#ffff1a" stroke="#c8c420" stroke-width="0.5"/>
<path d="M1043.5 826.3c-2.6 0-3.2-3.6-0.6-4.3c-0.6-2.6 2.6-3.8 4-2.2c0.6-3.4 5.2-4.4 6.8-1.6c2.2-3.4 7-1.6 6.6 2.2c2.8 0.6 2.8 5.2-0.4 5.6Z" fill="#fff" stroke="#222" stroke-width="0.8"/>
<path d="M1046.5 822.5c0.4-1.6 2.4-1.8 3-0.6M1052 821c1-1.8 3.4-1.4 3.6 0.6" fill="none" stroke="#666" stroke-width="0.5"/>
<g stroke="#8a8a8a" stroke-width="0.55" stroke-dasharray="1.2 0.9">
<line x1="1042.5" y1="827.5" x2="1040.3" y2="832.3"/>
<line x1="1044.8" y1="827.5" x2="1042.6" y2="832.3"/>
<line x1="1047.1" y1="827.5" x2="1044.9" y2="832.3"/>
<line x1="1049.4" y1="827.5" x2="1047.2" y2="832.3"/>
<line x1="1051.7" y1="827.5" x2="1049.5" y2="832.3"/>
<line x1="1054" y1="827.5" x2="1051.8" y2="832.3"/>
<line x1="1056.3" y1="827.5" x2="1054.1" y2="832.3"/>
<line x1="1058.6" y1="827.5" x2="1056.4" y2="832.3"/>
</g>
<text x="1037.3" y="840.7" text-anchor="middle" style="font-family:'Liberation Serif',serif" font-size="10.2" textLength="25.3" lengthAdjust="spacingAndGlyphs" fill="#111" stroke="#111" stroke-width="0.15">CIMH</text>
<defs><path id="arcT" d="M1008.7 824A32.6 32.6 0 0 1 1066.4 820.5"/><path id="arcB" d="M1003.3 847.4A36.6 36.6 0 0 0 1073.3 848.6"/></defs>
<text style="font-family:'Liberation Serif',serif" font-weight="bold" font-size="4.7" fill="#333" letter-spacing="1.02"><textPath href="#arcT" startOffset="50%" text-anchor="middle">Caribbean Institute for</textPath></text>
<text style="font-family:'Liberation Serif',serif" font-weight="bold" font-size="4.7" fill="#333" letter-spacing="1.12"><textPath href="#arcB" startOffset="50%" text-anchor="middle">Meteorology and Hydrology</textPath></text>
</g>
</svg>
</body></html>
